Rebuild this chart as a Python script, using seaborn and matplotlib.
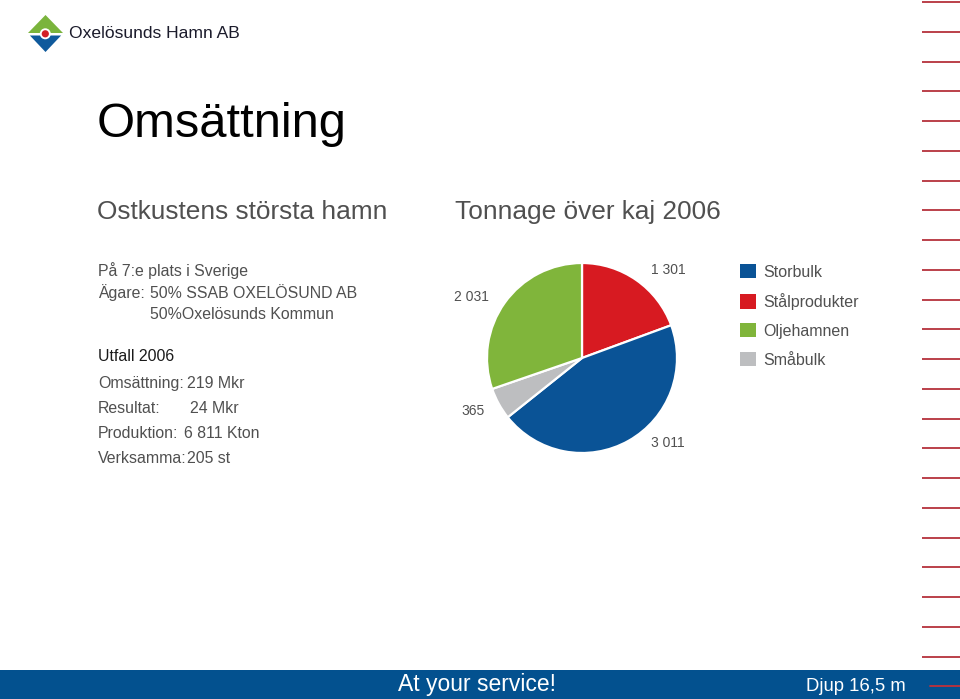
import numpy as np
import matplotlib
matplotlib.use("Agg")
import matplotlib.pyplot as plt
from matplotlib.patches import Polygon, Circle, Rectangle, Patch
import seaborn as sns

# ---------------- data ----------------
pie_categories = ["Stålprodukter", "Storbulk", "Småbulk", "Oljehamnen"]
pie_values = [1301, 3011, 365, 2031]
legend_order = ["Storbulk", "Stålprodukter", "Oljehamnen", "Småbulk"]
colors = {"Storbulk": "#0a5396", "Stålprodukter": "#d71a21",
          "Oljehamnen": "#80b53b", "Småbulk": "#bdbec0"}

title = "Omsättning"
subtitle_left = "Ostkustens största hamn"
subtitle_right = "Tonnage över kaj 2006"
company = "Oxelösunds Hamn AB"
facts_labels = ["Omsättning:", "Resultat:", "Produktion:", "Verksamma:"]
facts_values = ["219 Mkr", "24 Mkr", "6 811 Kton", "205 st"]
footer_left = "At your service!"
footer_right = "Djup 16,5 m"

# ---------------- style ----------------
sns.set_theme(style="white")
plt.rcParams["font.family"] = ["Liberation Sans", "DejaVu Sans"]
GREY = "#505050"
BAR_BLUE = "#03518f"

fig = plt.figure(figsize=(9.6, 6.99), dpi=100)
fig.patch.set_facecolor("white")

# overlay axes in pixel coordinates
ov = fig.add_axes([0, 0, 1, 1])
ov.set_xlim(0, 960)
ov.set_ylim(699, 0)
ov.axis("off")

# right side decorative lines
for y in np.arange(2, 660, 29.75):
    ov.plot([922, 960], [y, y], color="#b5323c", lw=1.3, solid_capstyle="butt")

# bottom bar
ov.add_patch(Rectangle((0, 670), 960, 29, facecolor=BAR_BLUE, edgecolor="none"))
ov.plot([930, 960], [686, 686], color="#c0303a", lw=1.3)
ov.text(398, 691, footer_left, color="white", fontsize=16.5, va="baseline")
ov.text(806, 691, footer_right, color="white", fontsize=13.3, va="baseline")

# logo
ov.add_patch(Polygon([(28, 33), (45.5, 15), (63, 33)], closed=True,
                     facecolor="#7ab43c", edgecolor="none"))
ov.add_patch(Polygon([(29.9, 35.5), (61.1, 35.5), (45.5, 52)], closed=True,
                     facecolor="#0f5a9c", edgecolor="none"))
ov.add_patch(Circle((45.3, 33.8), 5.5, facecolor="white", edgecolor="none"))
ov.add_patch(Circle((45.3, 33.8), 3.6, facecolor="#d21f26", edgecolor="none"))
ov.text(69, 33.5, company, color="#1b1b2b", fontsize=12.6, va="center")

# titles
ov.text(97, 137, title, color="black", fontsize=35.2, va="baseline")
ov.text(97, 219, subtitle_left, color=GREY, fontsize=18.9, va="baseline")
ov.text(455, 219, subtitle_right, color=GREY, fontsize=18.9, va="baseline")

# info block
fs = 11.4
ov.text(98, 276, "På 7:e plats i Sverige", color=GREY, fontsize=fs, va="baseline")
ov.text(98, 298, "Ägare:", color=GREY, fontsize=fs, va="baseline")
ov.text(150, 298, "50% SSAB OXELÖSUND AB", color=GREY, fontsize=fs, va="baseline")
ov.text(150, 319, "50%Oxelösunds Kommun", color=GREY, fontsize=fs, va="baseline")
ov.text(98, 361, "Utfall 2006", color="#1a1a1a", fontsize=fs, va="baseline")
fact_y = [388, 413, 438, 463]
fact_x = [187, 190, 184, 187]
for lab, val, y, x in zip(facts_labels, facts_values, fact_y, fact_x):
    ov.text(98, y, lab, color=GREY, fontsize=fs, va="baseline")
    ov.text(x, y, val, color=GREY, fontsize=fs, va="baseline")

# ---------------- pie ----------------
pax = fig.add_axes([487 / 960, 1 - 453 / 699, 190 / 960, 190 / 699])
wedges, _ = pax.pie(pie_values, colors=[colors[c] for c in pie_categories],
                    startangle=90, counterclock=False,
                    wedgeprops=dict(edgecolor="white", linewidth=1.6))
pax.set_xlim(-1, 1)
pax.set_ylim(-1, 1)
pax.set_aspect("equal")

label_pos = [(0.905, 0.93), (0.905, -0.90), (-1.147, -0.56), (-1.168, 0.64)]
for v, (lx, ly) in zip(pie_values, label_pos):
    txt = f"{v:,}".replace(",", " ")
    pax.text(lx, ly, txt, ha="center", va="center", fontsize=10, color=GREY,
             clip_on=False)

# legend
handles = [Patch(facecolor=colors[c], edgecolor="none") for c in legend_order]
fig.legend(handles, legend_order, loc="upper left",
           bbox_to_anchor=(740 / 960, 1 - 264 / 699), frameon=False,
           fontsize=11.5, handlelength=1.0, handleheight=1.0,
           handletextpad=0.45, labelspacing=0.83, borderpad=0,
           borderaxespad=0, labelcolor=GREY)

fig.savefig("out.png", dpi=100, facecolor="white")
